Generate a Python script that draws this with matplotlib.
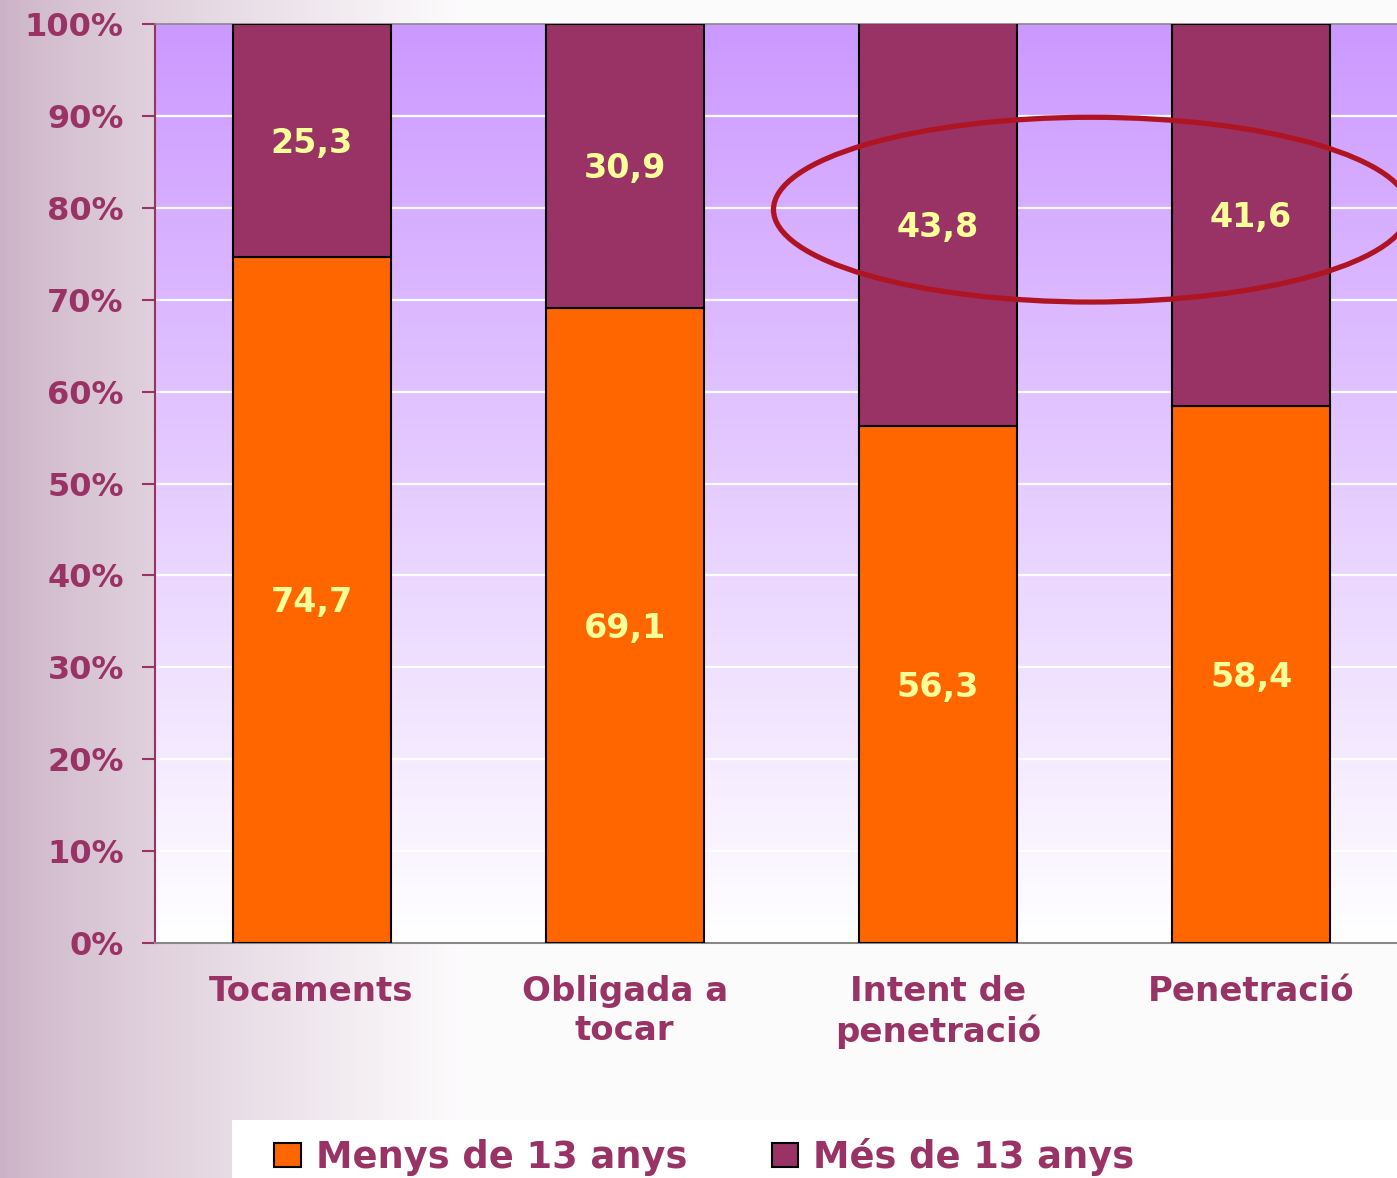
import numpy as np
import matplotlib
matplotlib.use('Agg')
from matplotlib import pyplot as plt
from matplotlib.patches import Patch, Ellipse, Rectangle

categories = ['Tocaments', 'Obligada a\ntocar', 'Intent de\npenetració', 'Penetració']
menys_13 = [74.7, 69.1, 56.3, 58.4]
mes_13 = [25.3, 30.9, 43.8, 41.6]
series_names = ['Menys de 13 anys', 'Més de 13 anys']
yticks = list(range(0, 101, 10))

c_orange = '#FF6600'
c_plum = '#993366'
c_text = '#993366'
c_val = '#FFFF99'
font = 'DejaVu Sans'

W, H = 1397, 1178
fig = plt.figure(figsize=(W / 100, H / 100), dpi=100)

# fondo de la figura: degradado malva a blanco desde la izquierda
bg = fig.add_axes([0, 0, 1, 1], zorder=-10)
xx = np.linspace(0, 1, 300)
t = np.clip(xx / 0.33, 0, 1) ** 0.8
left_col = np.array([0.80, 0.70, 0.78])
right_col = np.array([0.99, 0.985, 0.99])
row = left_col[None, :] * (1 - t[:, None]) + right_col[None, :] * t[:, None]
img = np.repeat(row[None, :, :], 50, axis=0)
bg.imshow(img, aspect='auto', extent=(0, 1, 0, 1))
bg.set_xlim(0, 1); bg.set_ylim(0, 1)
bg.axis('off')

ax = fig.add_axes([155 / W, 1 - 943 / H, 1 - 155 / W, (943 - 24) / H])
ax.set_facecolor('none')
x = np.arange(len(categories))
xl = (-0.5, 3.466)

# degradado del area de trazado
g = np.linspace(0, 1, 256)[:, None]
top = np.array([0.80, 0.60, 1.0])
bot = np.array([1.0, 1.0, 1.0])
grad = top[None, None, :] * g[:, :, None] + bot[None, None, :] * (1 - g[:, :, None])
ax.imshow(grad, aspect='auto', extent=(xl[0], xl[1], 0, 100), origin='lower', zorder=0)

for yv in yticks[1:-1]:
    ax.axhline(yv, color='white', lw=1.6, zorder=1)

ax.bar(x, menys_13, width=0.505, color=c_orange, edgecolor='black', lw=1.5, zorder=3)
ax.bar(x, mes_13, width=0.505, bottom=menys_13, color=c_plum, edgecolor='black', lw=1.5, zorder=3)

for i in range(len(categories)):
    ax.text(x[i], menys_13[i] / 2 - 0.3, f'{menys_13[i]:.1f}'.replace('.', ','),
            ha='center', va='center', color=c_val, fontsize=24, fontweight='bold',
            family=font, zorder=4)
    ax.text(x[i], menys_13[i] + mes_13[i] / 2 - 0.3, f'{mes_13[i]:.1f}'.replace('.', ','),
            ha='center', va='center', color=c_val, fontsize=24, fontweight='bold',
            family=font, zorder=4)

ell = Ellipse((2.49, 79.8), 2.03, 20.1, fill=False, edgecolor='#AF1423', lw=3.8,
              zorder=5, clip_on=False)
ax.add_patch(ell)

ax.set_xlim(*xl)
ax.set_ylim(0, 100)
ax.set_yticks(yticks)
ax.set_yticklabels([f'{v}%' for v in yticks])
ax.set_xticks(x)
ax.set_xticklabels(categories, linespacing=1.25)
for lab in ax.get_yticklabels():
    lab.set_fontsize(23); lab.set_fontweight('bold'); lab.set_color(c_text); lab.set_family(font)
for lab in ax.get_xticklabels():
    lab.set_fontsize(24.5); lab.set_fontweight('bold'); lab.set_color(c_text); lab.set_family(font)
ax.tick_params(axis='y', length=9.5, width=1.5, color=c_plum, pad=13)
ax.tick_params(axis='x', length=0, pad=23)
ax.spines['left'].set_color(c_plum)
ax.spines['left'].set_linewidth(1.5)
ax.spines['bottom'].set_color('#888888')
ax.spines['bottom'].set_linewidth(1.5)
ax.spines['top'].set_color('#888888')
ax.spines['top'].set_linewidth(1.2)
ax.spines['right'].set_visible(False)

# caja blanca de la leyenda
fig.patches.append(Rectangle((232 / W, 0), 1 - 232 / W, 58 / H, transform=fig.transFigure,
                             facecolor='white', edgecolor='none', zorder=-5))
handles = [Patch(facecolor=c_orange, edgecolor='black', lw=1.5),
           Patch(facecolor=c_plum, edgecolor='black', lw=1.5)]
leg = fig.legend(handles, series_names, loc='lower left', bbox_to_anchor=(256 / W, -0.014),
                 ncol=2, frameon=False, borderpad=0, handlelength=0.72, handleheight=0.62,
                 handletextpad=0.4, columnspacing=2.3,
                 prop={'family': font, 'weight': 'bold', 'size': 26.5})
for txt in leg.get_texts():
    txt.set_color(c_text)

fig.savefig('out.png', dpi=100)
